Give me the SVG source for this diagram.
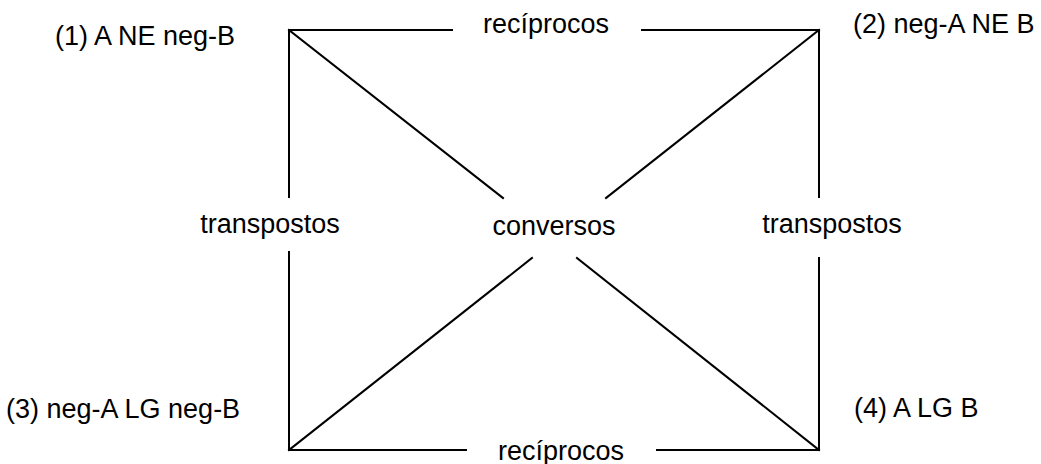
<svg xmlns="http://www.w3.org/2000/svg" width="1041" height="464" viewBox="0 0 1041 464">
<style>
.t{font-family:"Liberation Sans",Arial,sans-serif;font-size:27px;fill:#000}
.m{text-anchor:middle}
.c line{stroke:#000;stroke-width:2;stroke-linecap:square;fill:none}
</style>
<rect width="1041" height="464" fill="#fff"/>
<g id="connectors" class="c">
<line x1="289" y1="30" x2="452" y2="30"/>
<line x1="642" y1="30" x2="819" y2="30"/>
<line x1="289" y1="450" x2="466" y2="450"/>
<line x1="657" y1="450" x2="819" y2="450"/>
<line x1="289" y1="30" x2="289" y2="197"/>
<line x1="289" y1="252" x2="289" y2="450"/>
<line x1="819" y1="30" x2="819" y2="197"/>
<line x1="819" y1="258" x2="819" y2="450"/>
<line x1="289" y1="30" x2="503" y2="198"/>
<line x1="819" y1="30" x2="606" y2="198"/>
<line x1="532" y1="258" x2="289" y2="450"/>
<line x1="577" y1="258" x2="819" y2="450"/>
</g>
<g id="node1"><text class="t" x="55" y="45">(1) A NE neg-B</text></g>
<g id="node2"><text class="t" x="853" y="33">(2) neg-A NE B</text></g>
<g id="node3"><text class="t" x="6" y="418">(3) neg-A LG neg-B</text></g>
<g id="node4"><text class="t" x="854" y="417">(4) A LG B</text></g>
<g id="label-reciprocos-top"><text class="t m" x="546" y="33">recíprocos</text></g>
<g id="label-reciprocos-bottom"><text class="t m" x="561" y="460">recíprocos</text></g>
<g id="label-transpostos-left"><text class="t m" x="270" y="233">transpostos</text></g>
<g id="label-conversos"><text class="t m" x="554" y="235">conversos</text></g>
<g id="label-transpostos-right"><text class="t m" x="832" y="233">transpostos</text></g>
</svg>
